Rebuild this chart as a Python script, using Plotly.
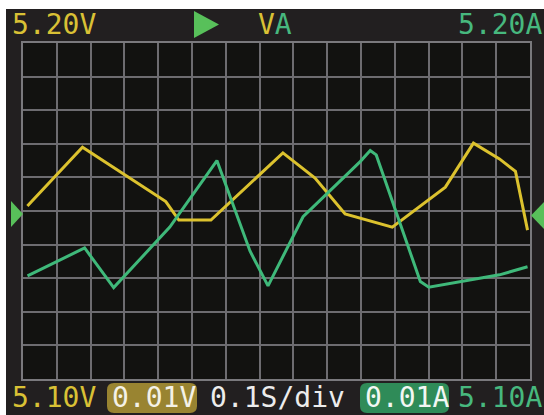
import plotly.graph_objects as go

# ---- data ----
volt_time = [0.013, 0.176, 0.4225, 0.461, 0.556, 0.769, 0.864, 0.953, 1.0925,
             1.2496, 1.3327, 1.4097, 1.457, 1.4927]
volt_vals = [5.1515, 5.1690, 5.1528, 5.1473, 5.1473, 5.1673, 5.1598, 5.1491,
             5.1452, 5.1571, 5.1702, 5.1655, 5.1618, 5.1443]

amp_time = [0.0133, 0.1823, 0.2683, 0.4343, 0.5737, 0.6715, 0.7249, 0.8286,
            0.9976, 1.0273, 1.0451, 1.1755, 1.2007, 1.4097, 1.4927]
amp_vals = [5.1307, 5.1390, 5.1272, 5.1452, 5.1650, 5.1381, 5.1277, 5.1483,
            5.1647, 5.1680, 5.1667, 5.1290, 5.1273, 5.1310, 5.1334]

v_top_label = "5.20V"
v_bottom_label = "5.10V"
a_top_label = "5.20A"
a_bottom_label = "5.10A"
v_div_label = "0.01V"
a_div_label = "0.01A"
time_div_label = "0.1S/div"

t_range = [0, 1.5]
y_range = [5.10, 5.20]

# ---- styling ----
W, H = 544, 415
ML, MR, MT, MB = 23, 14, 43, 36
PW, PH = W - ML - MR, H - MT - MB

YEL = "#dcc22e"
GRN = "#3fb97a"
TXT_YEL = "#d9c135"
TXT_GRN = "#47b87e"
TRI = "#58c05a"
BG = "#221f20"
PLOT_BG = "#121210"
GRID = "#6d6c70"
FONT = "DejaVu Sans Mono"


def px(x):
    return (x - ML) / PW


def py(y):
    return 1 - (y - MT) / PH


def tri(points):
    d = "M " + " L ".join(f"{px(x)},{py(y)}" for x, y in points) + " Z"
    return dict(type="path", xref="paper", yref="paper", path=d,
                fillcolor=TRI, line=dict(width=0), layer="above")


def rounded(x0, y0, x1, y1, r, color):
    rx, ry = r / PW, r / PH
    X0, X1 = px(x0), px(x1)
    Y0, Y1 = py(y0), py(y1)  # Y0 top (larger), Y1 bottom
    d = (f"M {X0+rx},{Y0} L {X1-rx},{Y0} Q {X1},{Y0} {X1},{Y0-ry} "
         f"L {X1},{Y1+ry} Q {X1},{Y1} {X1-rx},{Y1} "
         f"L {X0+rx},{Y1} Q {X0},{Y1} {X0},{Y1+ry} "
         f"L {X0},{Y0-ry} Q {X0},{Y0} {X0+rx},{Y0} Z")
    return dict(type="path", xref="paper", yref="paper", path=d,
                fillcolor=color, line=dict(width=0), layer="above")


fig = go.Figure()
fig.add_trace(go.Scatter(x=volt_time, y=volt_vals, mode="lines",
                         line=dict(color=YEL, width=3), name="V"))
fig.add_trace(go.Scatter(x=amp_time, y=amp_vals, mode="lines",
                         line=dict(color=GRN, width=3), name="A"))

shapes = [
    # white strips at top and left of the picture
    dict(type="rect", xref="paper", yref="paper", x0=px(0), x1=px(W), y0=py(0), y1=py(9),
         fillcolor="white", line=dict(width=0), layer="above"),
    dict(type="rect", xref="paper", yref="paper", x0=px(0), x1=px(6), y0=py(0), y1=py(H),
         fillcolor="white", line=dict(width=0), layer="above"),
    tri([(194, 11), (194, 38), (219, 24.5)]),
    tri([(11, 201), (11, 227), (23, 214)]),
    tri([(544, 202), (544, 229), (531, 215.5)]),
    rounded(107, 383, 197, 413, 7, "#998431"),
    rounded(360, 383, 449, 413, 7, "#2f8b58"),
]


def ann(text, x, y, color, anchor="left", size=28):
    return dict(text=text, x=px(x), y=py(y), xref="paper", yref="paper",
                xanchor=anchor, yanchor="middle", showarrow=False,
                font=dict(family=FONT, size=size, color=color))


annotations = [
    ann(v_top_label, 10, 25, TXT_YEL),
    ann(f"<span style='color:{TXT_YEL}'>V</span><span style='color:{TXT_GRN}'>A</span>",
        256, 25, TXT_GRN),
    ann(a_top_label, 544, 25, TXT_GRN, anchor="right"),
    ann(v_bottom_label, 10, 397, TXT_YEL),
    ann(v_div_label, 110, 397, "#f4f1e6"),
    ann(time_div_label, 208, 397, "#ececec"),
    ann(a_div_label, 363, 397, "#f2f7f3"),
    ann(a_bottom_label, 544, 397, TXT_GRN, anchor="right"),
]

axis_common = dict(showgrid=True, gridcolor=GRID, gridwidth=2, zeroline=False,
                   showline=True, mirror=True, linecolor="#7a797d", linewidth=2,
                   showticklabels=False, ticks="", fixedrange=True)

fig.update_layout(
    width=W, height=H,
    margin=dict(l=ML, r=MR, t=MT, b=MB, pad=0),
    paper_bgcolor=BG, plot_bgcolor=PLOT_BG,
    showlegend=False,
    xaxis=dict(range=t_range, dtick=0.1, tick0=0, **axis_common),
    yaxis=dict(range=y_range, dtick=0.01, tick0=5.10, **axis_common),
    shapes=shapes,
    annotations=annotations,
)

fig.write_html("out.html",
               config={"displayModeBar": False, "staticPlot": True},
               post_script="document.body.style.margin='0px';document.body.style.overflow='hidden';")
